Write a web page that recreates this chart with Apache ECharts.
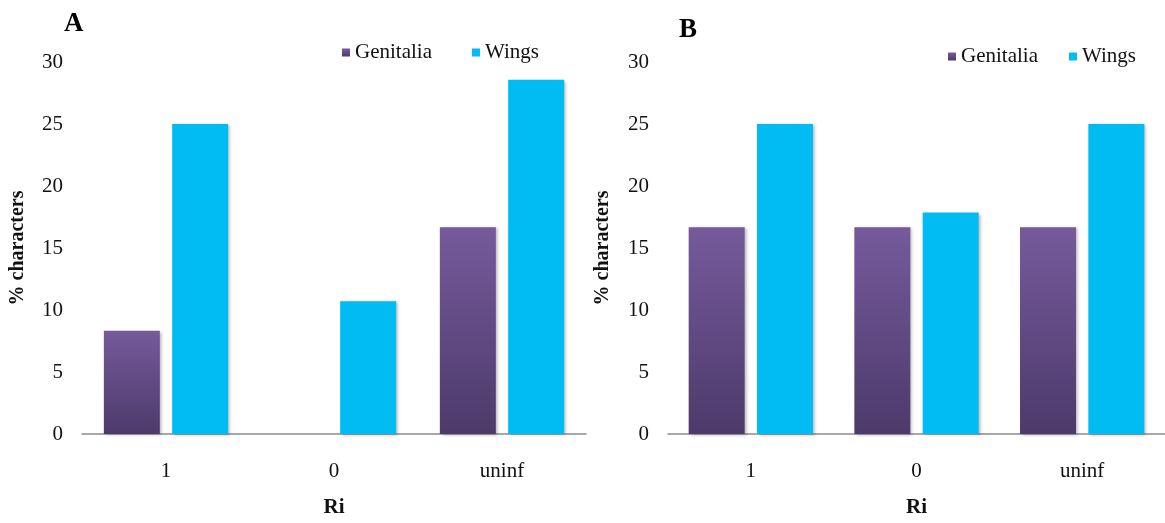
<!DOCTYPE html>
<html>
<head>
<meta charset="utf-8">
<script src="https://cdn.jsdelivr.net/npm/echarts@6/dist/echarts.min.js"></script>
<style>
  html, body { margin: 0; padding: 0; background: #fff; }
  #chart { width: 1165px; height: 523px; }
</style>
</head>
<body>
<div id="chart"></div>
<script>
const categories = ['1', '0', 'uninf']
const seriesNames = ['Genitalia', 'Wings']
const genitaliaA = [8.33, 0, 16.67]
const wingsA = [25, 10.71, 28.57]
const genitaliaB = [16.67, 16.67, 16.67]
const wingsB = [25, 17.86, 25]
const yTicks = { min: 0, max: 30, interval: 5 }

const serif = 'Liberation Serif'
const purple = new echarts.graphic.LinearGradient(0, 0, 0, 1, [
  { offset: 0, color: '#765a9c' },
  { offset: 1, color: '#4d3a6a' }
])
const cyan = '#00bcf2'

function xAxisFor (gridIndex) {
  return {
    type: 'category',
    gridIndex,
    data: categories,
    axisLine: { lineStyle: { color: '#8c8c8c', width: 1.5 } },
    axisTick: { show: false },
    axisLabel: { fontFamily: serif, fontSize: 21, color: '#111', margin: 27 },
    name: 'Ri',
    nameLocation: 'middle',
    nameGap: 63,
    nameTextStyle: { fontFamily: serif, fontSize: 21, fontWeight: 'bold', color: '#111' }
  }
}

function yAxisFor (gridIndex, gap) {
  return {
    type: 'value',
    gridIndex,
    ...yTicks,
    splitLine: { show: false },
    axisLine: { show: false },
    axisTick: { show: false },
    axisLabel: { fontFamily: serif, fontSize: 21, color: '#111', margin: 19 },
    name: '% characters',
    nameLocation: 'middle',
    nameRotate: 90,
    nameGap: gap,
    nameTextStyle: { fontFamily: serif, fontSize: 20, fontWeight: 'bold', color: '#111' }
  }
}

function bar (name, data, idx, color) {
  return {
    name,
    type: 'bar',
    xAxisIndex: idx,
    yAxisIndex: idx,
    data,
    barWidth: 56,
    barGap: '22%',
    itemStyle: {
      color,
      shadowColor: 'rgba(0,0,0,0.28)',
      shadowBlur: 3,
      shadowOffsetX: 2,
      shadowOffsetY: 1
    }
  }
}

const myChart = echarts.init(document.getElementById('chart'))
myChart.setOption({
  animation: false,
  title: [
    { text: 'A', left: 59, top: 6, textStyle: { fontFamily: serif, fontSize: 27, fontWeight: 'bold', color: '#000' } },
    { text: 'B', left: 674, top: 12, textStyle: { fontFamily: serif, fontSize: 27, fontWeight: 'bold', color: '#000' } }
  ],
  legend: [
    {
      data: seriesNames, left: 337, top: 37, itemWidth: 8, itemHeight: 8, itemGap: 40,
      icon: 'rect',
      textStyle: { fontFamily: serif, fontSize: 21, color: '#111' }
    },
    {
      data: seriesNames, left: 943, top: 41, itemWidth: 8, itemHeight: 8, itemGap: 31,
      icon: 'rect',
      textStyle: { fontFamily: serif, fontSize: 21, color: '#111' }
    }
  ],
  grid: [
    { left: 82, width: 504, top: 62, height: 376 },
    { left: 668, width: 500, top: 62, height: 376 }
  ],
  xAxis: [xAxisFor(0), xAxisFor(1)],
  yAxis: [yAxisFor(0, 54), yAxisFor(1, 55)],
  series: [
    bar(seriesNames[0], genitaliaA, 0, purple),
    bar(seriesNames[1], wingsA, 0, cyan),
    bar(seriesNames[0], genitaliaB, 1, purple),
    bar(seriesNames[1], wingsB, 1, cyan)
  ]
})
</script>
</body>
</html>
